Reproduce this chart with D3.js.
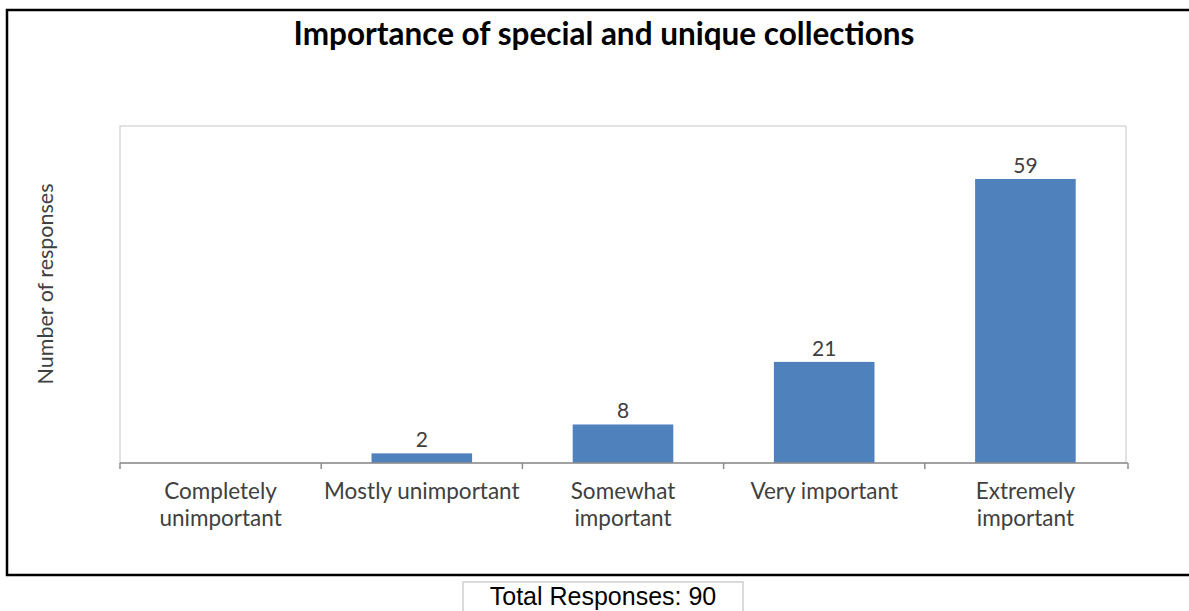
<!DOCTYPE html>
<html><head><meta charset="utf-8">
<script src="https://cdn.jsdelivr.net/npm/d3@7"></script>
<style>body{margin:0;background:#fff;}svg{display:block;}</style>
</head><body>
<svg id="c" width="1189" height="611"></svg>
<script>
const categories = ["Completely unimportant","Mostly unimportant","Somewhat important","Very important","Extremely important"];
const categoryLines = [["Completely","unimportant"],["Mostly unimportant"],["Somewhat","important"],["Very important"],["Extremely","important"]];
const values = [0, 2, 8, 21, 59];
const chartTitle = "Importance of special and unique collections";
const yTitle = "Number of responses";
const footer = "Total Responses: 90";

const svg = d3.select("#c");
const font = "Lato, 'Open Sans', sans-serif";
svg.append("rect").attr("x",7).attr("y",10).attr("width",1190).attr("height",565)
  .attr("fill","none").attr("stroke","#000").attr("stroke-width",2.5);

const L=120, R=1126, T=126, B=463;
svg.append("rect").attr("x",L).attr("y",T).attr("width",R-L).attr("height",B-T)
  .attr("fill","none").attr("stroke","#d9d9d9").attr("stroke-width",1.5);

const x = d3.scaleBand().domain(categories).range([L,R]).paddingInner(0.5).paddingOuter(0.25);
const xb = d3.scaleBand().domain(categories).range([L,R]);
const y = d3.scaleLinear().domain([0,70]).range([B,T]);

const data = values.map((v,i)=>({c:categories[i], v}));

svg.selectAll("rect.bar").data(data).join("rect").attr("class","bar")
  .attr("x",d=>x(d.c)).attr("width",x.bandwidth())
  .attr("y",d=>y(d.v)).attr("height",d=>B-y(d.v)).attr("fill","#4f81bd");

svg.selectAll("text.val").data(data.filter(d=>d.v>0)).join("text").attr("class","val")
  .attr("x",d=>x(d.c)+x.bandwidth()/2).attr("y",d=>y(d.v)-6)
  .attr("text-anchor","middle").attr("font-family",font).attr("font-size",21)
  .attr("fill","#404040").text(d=>d.v);

const ax = svg.append("g").attr("transform",`translate(0,${B})`);
ax.append("line").attr("x1",L).attr("x2",R+2).attr("stroke","#8c8c8c").attr("stroke-width",1.5);
const tickPos = categories.map(c=>xb(c)).concat([R+2]);
ax.selectAll("line.t").data(tickPos).join("line").attr("class","t")
  .attr("x1",d=>d).attr("x2",d=>d).attr("y1",0).attr("y2",6).attr("stroke","#8c8c8c").attr("stroke-width",1.5);

const lab = svg.selectAll("text.cat").data(categories).join("text").attr("class","cat")
  .attr("text-anchor","middle").attr("font-family",font).attr("font-size",22.5).attr("fill","#404040");
lab.each(function(c,i){
  const t=d3.select(this);
  categoryLines[i].forEach((ln,j)=>{
    t.append("tspan").attr("x",xb(c)+xb.bandwidth()/2).attr("y",499+j*27).text(ln);
  });
});

svg.append("text").attr("x",604).attr("y",45).attr("text-anchor","middle")
  .attr("font-family",font).attr("font-weight","bold").attr("font-size",31.5).attr("fill","#000").text(chartTitle);

svg.append("text").attr("transform",`translate(53,284) rotate(-90)`).attr("text-anchor","middle")
  .attr("font-family",font).attr("font-size",21.5).attr("fill","#404040").text(yTitle);

svg.append("rect").attr("x",463).attr("y",582).attr("width",280).attr("height",40)
  .attr("fill","#fff").attr("stroke","#cfcfcf").attr("stroke-width",1.5);
svg.append("text").attr("x",603).attr("y",605).attr("text-anchor","middle")
  .attr("font-family","Arial, 'Liberation Sans', sans-serif").attr("font-size",25).attr("fill","#000").text(footer);
</script>
</body></html>
